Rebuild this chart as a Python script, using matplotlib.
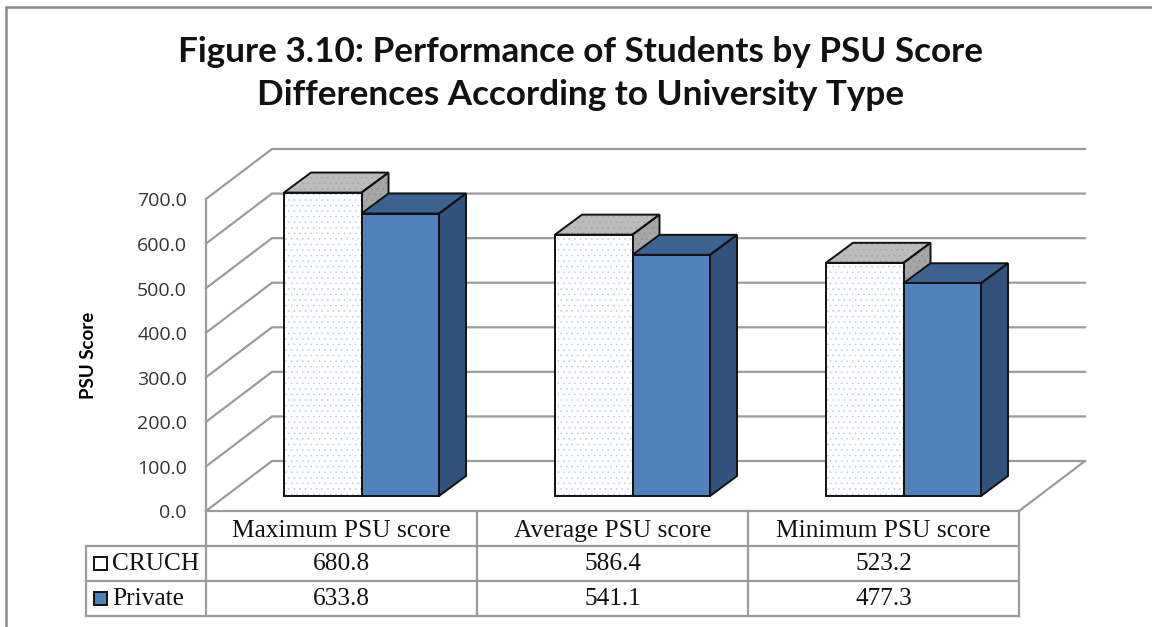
import matplotlib
matplotlib.use('Agg')
import matplotlib.pyplot as plt
from matplotlib.patches import Polygon, Rectangle

categories = ['Maximum PSU score', 'Average PSU score', 'Minimum PSU score']
series_names = ['CRUCH', 'Private']
cruch = [680.8, 586.4, 523.2]
private = [633.8, 541.1, 477.3]
y_ticks = [0, 100, 200, 300, 400, 500, 600, 700]

W, H = 1152, 627
px_x = 271.0       # pixels per category
px_y = 312 / 700   # pixels per score point
x0_px, y0_px = 206, 511

fig = plt.figure(figsize=(W / 100, H / 100), dpi=100)
ax = fig.add_axes([0, 0, 1, 1])
ax.set_xlim(-x0_px / px_x, (W - x0_px) / px_x)
ax.set_ylim(-(H - y0_px) / px_y, y0_px / px_y)
ax.axis('off')

# 3d depth as a shear, in data units
wall_dx = 66 / px_x
wall_dy = 50 / px_y
bar_dx = 27 / px_x
bar_dy = 20 / px_y
bar_off_y = 15 / px_y
bar_w = 77.5 / px_x
grid_c = '#9c9c9c'
tab_c = '#9c9c9c'


def px(x, y):
    return (x - x0_px) / px_x, (y0_px - y) / px_y


# figure frame, only left and top show
fx, fy = zip(*[px(5.5, 627), px(5.5, 7), px(1152, 7)])
ax.plot(fx, fy, color='#8a8a8a', lw=1.8, clip_on=False, solid_joinstyle='miter')

n = len(categories)
# walls
for v in y_ticks:
    ax.plot([0, wall_dx, n + wall_dx], [v, v + wall_dy, v + wall_dy], color=grid_c, lw=1.6, zorder=1)
ax.plot([0, 0], [0, y_ticks[-1]], color=grid_c, lw=1.6, zorder=1)
ax.plot([0, n, n + wall_dx], [0, 0, wall_dy], color=grid_c, lw=1.6, zorder=1)


def draw_bar(x, v, front, top, side, hatch=None, hatch_c=None, z=3):
    b = bar_off_y
    pts_side = [(x + bar_w, b), (x + bar_w + bar_dx, b + bar_dy), (x + bar_w + bar_dx, b + v + bar_dy), (x + bar_w, b + v)]
    pts_top = [(x, b + v), (x + bar_dx, b + v + bar_dy), (x + bar_w + bar_dx, b + v + bar_dy), (x + bar_w, b + v)]
    ax.add_patch(Polygon(pts_side, fc=side, ec='none', zorder=z))
    ax.add_patch(Polygon(pts_top, fc=top, ec='none', zorder=z))
    if hatch:
        ax.add_patch(Polygon(pts_side, fc='none', ec='#8e8e8e', hatch=hatch, lw=0, zorder=z))
        ax.add_patch(Polygon(pts_top, fc='none', ec='#a6a6a6', hatch=hatch, lw=0, zorder=z))
    ax.add_patch(Polygon(pts_side, fc='none', ec='#111111', lw=1.4, zorder=z))
    ax.add_patch(Polygon(pts_top, fc='none', ec='#111111', lw=1.4, zorder=z))
    ax.add_patch(Rectangle((x, b), bar_w, v, fc=front, ec='none', zorder=z))
    if hatch:
        ax.add_patch(Rectangle((x, b), bar_w, v, fc='none', ec=hatch_c, hatch=hatch, lw=0, zorder=z))
    ax.add_patch(Rectangle((x, b), bar_w, v, fc='none', ec='#111111', lw=1.4, zorder=z))


plt.rcParams['hatch.linewidth'] = 0.4
for i in range(n):
    center = i + 0.5 + 20 / px_x
    draw_bar(center - bar_w, cruch[i], '#ffffff', '#bcbcbc', '#a6a6a6', '...', '#b4cdea')
    draw_bar(center, private[i], '#4f81bd', '#3c6290', '#31537b')

# y axis labels
for v in y_ticks:
    ax.text(-19 / px_x, v - 2.5 / px_y, '%.1f' % v, ha='right', va='center', fontsize=14,
            family='Open Sans', color='#333333')
ax.text(*px(89, 355), 'PSU Score', rotation=90, ha='center', va='center', fontsize=13.5,
        family='Lato', weight='bold', color='black')

# title
ax.text(*px(581, 51.5), 'Figure 3.10: Performance of Students by PSU Score', ha='center', va='center',
        fontsize=25.3, family='Lato', weight='bold', color='#111111')
ax.text(*px(581, 95.5), 'Differences According to University Type', ha='center', va='center',
        fontsize=25.3, family='Lato', weight='bold', color='#111111')

# data table
row_tops = [546, 581, 616]
for y in row_tops:
    xa, ya = px(86, y)
    ax.plot([xa, n], [ya, ya], color=tab_c, lw=1.6, zorder=2)
ax.plot(*zip(px(86, 546), px(86, 616)), color=tab_c, lw=1.6, zorder=2)
for i in range(n + 1):
    ax.plot([i, i], [0, px(0, 616)[1]], color=tab_c, lw=1.6, zorder=2)

serif = 'Liberation Serif'
fs = 18.3
for i in range(n):
    ax.text(i + 0.5, px(0, 531)[1], categories[i], ha='center', va='center', fontsize=fs, family=serif, color='#111111')
    ax.text(i + 0.5, px(0, 564)[1], '%.1f' % cruch[i], ha='center', va='center', fontsize=fs, family=serif, color='#111111')
    ax.text(i + 0.5, px(0, 599)[1], '%.1f' % private[i], ha='center', va='center', fontsize=fs, family=serif, color='#111111')

for name, y, fc, hatch in [(series_names[0], 563.5, '#ffffff', '...'), (series_names[1], 598.5, '#4f81bd', None)]:
    xs, ys = px(94, y + 6.5)
    ax.add_patch(Rectangle((xs, ys), 13 / px_x, 13 / px_y, fc=fc, ec='#111111', lw=1.4, zorder=3))
    ax.text(*px(112, y + 0.5), name, ha='left', va='center', fontsize=fs, family=serif, color='#111111')

fig.savefig('out.png', dpi=100)
